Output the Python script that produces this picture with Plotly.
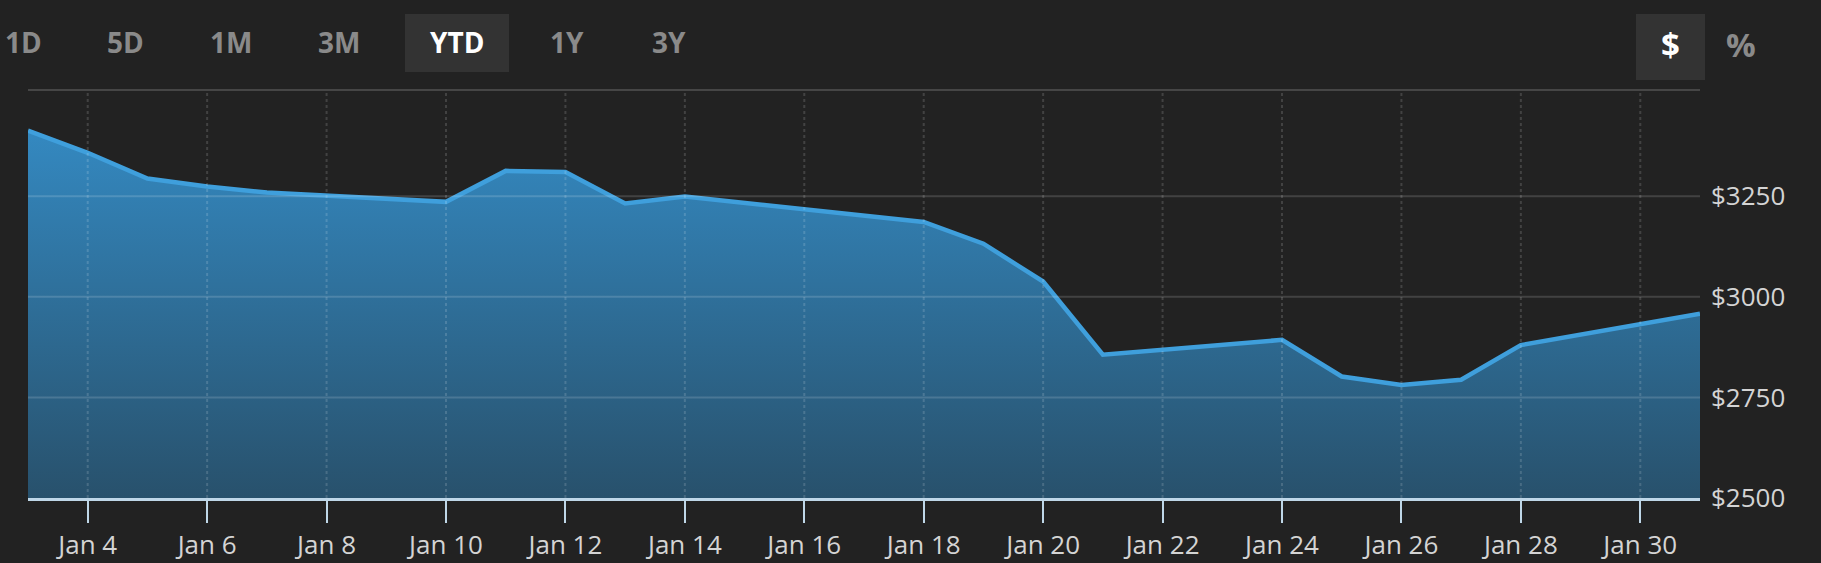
import plotly.graph_objects as go

# ---- data ----
dates = ["2022-01-03", "2022-01-04", "2022-01-05", "2022-01-06", "2022-01-07",
         "2022-01-10", "2022-01-11", "2022-01-12", "2022-01-13", "2022-01-14",
         "2022-01-18", "2022-01-19", "2022-01-20", "2022-01-21", "2022-01-24",
         "2022-01-25", "2022-01-26", "2022-01-27", "2022-01-28", "2022-01-31"]
prices = [3413, 3358, 3294, 3274, 3259,
          3236, 3313, 3310, 3232, 3249,
          3186, 3132, 3038, 2856, 2893,
          2802, 2781, 2794, 2880, 2958]

xtick_vals = ["2022-01-04", "2022-01-06", "2022-01-08", "2022-01-10", "2022-01-12",
              "2022-01-14", "2022-01-16", "2022-01-18", "2022-01-20", "2022-01-22",
              "2022-01-24", "2022-01-26", "2022-01-28", "2022-01-30"]
xtick_text = ["Jan 4", "Jan 6", "Jan 8", "Jan 10", "Jan 12", "Jan 14", "Jan 16",
              "Jan 18", "Jan 20", "Jan 22", "Jan 24", "Jan 26", "Jan 28", "Jan 30"]
ytick_vals = [2500, 2750, 3000, 3250]
ytick_text = ["$2500", "$2750", "$3000", "$3250"]

range_buttons = ["1D", "5D", "1M", "3M", "YTD", "1Y", "3Y"]
active_button = "YTD"
unit_buttons = ["$", "%"]
active_unit = "$"

# ---- layout geometry (pixels) ----
W, H = 1821, 563
ML, MR, MT, MB = 28, 121, 90, 65
PW, PH = W - ML - MR, H - MT - MB


def px(x):
    return (x - ML) / PW


def py(y):
    return (H - MB - y) / PH


BG = "#222222"
TXT = "#d4d4d4"
FONT = "Open Sans"

fig = go.Figure()
fig.add_trace(go.Scatter(
    x=dates, y=prices, mode="lines",
    line=dict(color="#3f9fdc", width=4.5),
    fill="tozeroy",
    fillgradient=dict(type="vertical", start=2500, stop=3420,
                      colorscale=[[0, "#28516c"], [1, "#3489c1"]]),
    hoverinfo="skip", showlegend=False,
))

shapes = []
# horizontal grid lines (above fill)
for v in ytick_vals[1:]:
    shapes.append(dict(type="line", xref="paper", yref="y", x0=0, x1=1, y0=v, y1=v,
                       line=dict(color="rgba(255,255,255,0.15)", width=2), layer="above"))
# top border line
shapes.append(dict(type="line", xref="paper", yref="paper", x0=0, x1=1, y0=1, y1=1,
                   line=dict(color="#464646", width=2), layer="above"))
# vertical dotted grid lines
for d in xtick_vals:
    shapes.append(dict(type="line", xref="x", yref="paper", x0=d, x1=d, y0=0, y1=1,
                       line=dict(color="rgba(255,255,255,0.15)", width=2, dash="dot"),
                       layer="above"))

annotations = []
# range button labels
btn_centers = [23, 125, 231, 339, 457, 567, 669]
for lab, cx in zip(range_buttons, btn_centers):
    if lab == active_button:
        shapes.append(dict(type="rect", xref="paper", yref="paper",
                           x0=px(405), x1=px(509), y0=py(14), y1=py(72),
                           fillcolor="#333333", line=dict(width=0), layer="below"))
    annotations.append(dict(
        text="<b>%s</b>" % lab, xref="paper", yref="paper", x=px(cx), y=py(42),
        xanchor="center", yanchor="middle", showarrow=False,
        font=dict(family=FONT, size=28,
                  color="#ffffff" if lab == active_button else "#8a8a8a")))

unit_centers = [1670, 1741]
for lab, cx in zip(unit_buttons, unit_centers):
    if lab == active_unit:
        shapes.append(dict(type="rect", xref="paper", yref="paper",
                           x0=px(1636), x1=px(1705), y0=py(14), y1=py(80),
                           fillcolor="#333333", line=dict(width=0), layer="below"))
    annotations.append(dict(
        text="<b>%s</b>" % lab, xref="paper", yref="paper", x=px(cx), y=py(45),
        xanchor="center", yanchor="middle", showarrow=False,
        font=dict(family=FONT, size=33,
                  color="#ffffff" if lab == active_unit else "#8a8a8a")))

fig.update_layout(
    width=W, height=H,
    margin=dict(l=ML, r=MR, t=MT, b=MB, pad=0, autoexpand=False),
    paper_bgcolor=BG, plot_bgcolor=BG,
    font=dict(family=FONT, color=TXT, size=26),
    shapes=shapes, annotations=annotations,
    xaxis=dict(
        type="date", range=["2022-01-03", "2022-01-31"],
        tickvals=xtick_vals, ticktext=xtick_text,
        showgrid=False, zeroline=False, automargin=False,
        showline=True, linecolor="#bfd7e8", linewidth=3,
        ticks="outside", ticklen=22, tickwidth=2, tickcolor="#bfd7e8",
        tickfont=dict(family=FONT, size=26, color=TXT),
        layer="above traces", fixedrange=True,
    ),
    yaxis=dict(
        range=[2500, 3514], side="right", automargin=False,
        tickvals=ytick_vals, ticktext=ytick_text,
        showgrid=False, zeroline=False, showline=False, ticks="",
        ticklabelstandoff=10,
        tickfont=dict(family=FONT, size=26, color=TXT),
        fixedrange=True,
    ),
)

fig.write_html("out.html", config={"displayModeBar": False},
               post_script="document.body.style.margin='0';")
